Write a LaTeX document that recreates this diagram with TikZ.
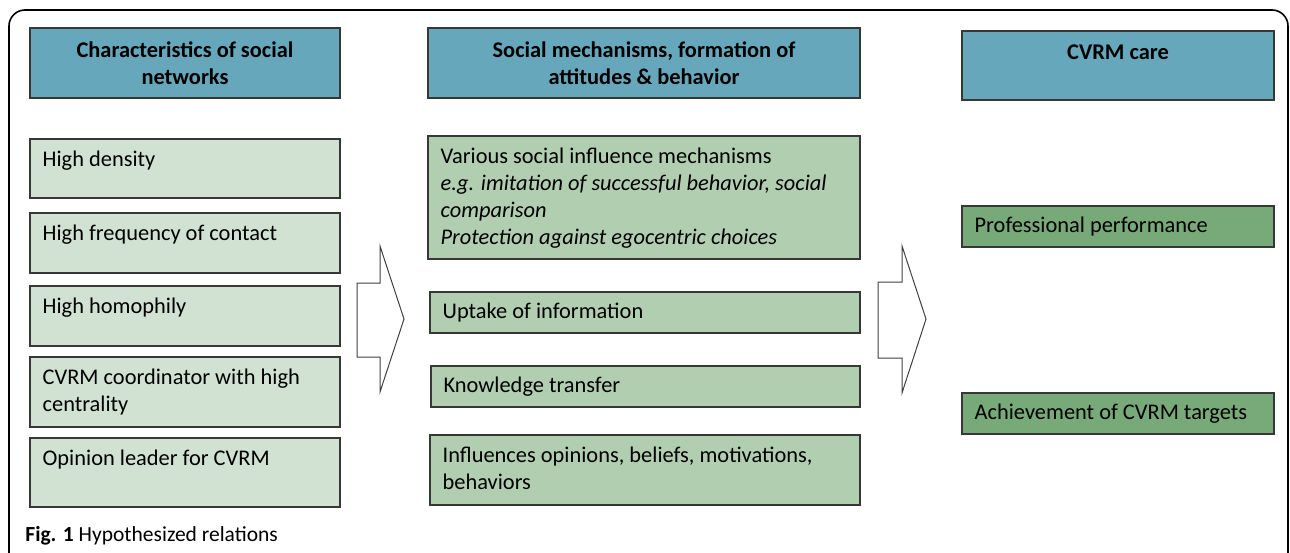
\documentclass[tikz,border=0pt]{standalone}
\usepackage{fontspec}
\setmainfont{Carlito}
\usetikzlibrary{fit}
\definecolor{headblue}{RGB}{103,167,187}
\definecolor{palegreen}{RGB}{210,226,210}
\definecolor{midgreen}{RGB}{177,206,177}
\definecolor{darkgreen}{RGB}{120,169,120}
\definecolor{boxline}{RGB}{55,55,55}

\begin{document}
\begin{tikzpicture}[x=0.5pt,y=-0.5pt,
    box/.style={draw=boxline,line width=0.75pt,inner sep=0pt},
    head/.style={box,fill=headblue},
    lbox/.style={box,fill=palegreen},
    mbox/.style={box,fill=midgreen},
    rbox/.style={box,fill=darkgreen},
    htxt/.style={anchor=north,align=center,inner xsep=0pt,inner ysep=7.2pt,font=\fontsize{11.2}{13.2}\selectfont\bfseries},
    ttxt/.style={anchor=north west,align=left,inner xsep=6.5pt,inner ysep=6.2pt,font=\fontsize{11.2}{13.4}\selectfont},
    ctxt/.style={anchor=west,align=left,inner xsep=6.5pt,font=\fontsize{11.2}{13.4}\selectfont},
    bigarrow/.style={draw=black!75,line width=0.5pt,fill=white}]
    \useasboundingbox (0,0) rectangle (1290,552);
    \draw[line width=0.8pt,rounded corners=8pt] (9,570) -- (9,10) -- (1288,10) -- (1288,570);

    % headers
    \node[head,fit={(30,28) (340,98)},label={[htxt]north:{Characteristics of social\\networks}}] (hnet) {};
    \node[head,fit={(428,28) (860,98)},label={[htxt]north:{Social mechanisms, formation of\\attitudes \& behavior}}] (hmech) {};
    \node[head,fit={(962,31) (1274,100)},label={[htxt]north:{CVRM care}}] (hcare) {};

    % network characteristics
    \node[lbox,fit={(30,139) (340,198)},label={[ttxt]north west:{High density}}] (dens) {};
    \node[lbox,fit={(30,213) (340,273)},label={[ttxt]north west:{High frequency of contact}}] (freq) {};
    \node[lbox,fit={(30,286) (340,346)},label={[ttxt]north west:{High homophily}}] (homo) {};
    \node[lbox,fit={(30,357) (340,427)},label={[ttxt]north west:{CVRM coordinator with high\\centrality}}] (coord) {};
    \node[lbox,fit={(30,438) (340,507)},label={[ttxt]north west:{Opinion leader for CVRM}}] (lead) {};

    % mechanisms
    \node[mbox,fit={(428,136) (860,259)},label={[ttxt]north west:{Various social influence mechanisms\\\textit{e.g. imitation of successful behavior, social}\\\textit{comparison}\\\textit{Protection against egocentric choices}}}] (infl) {};
    \node[mbox,fit={(430,292) (860,333)},label={[ctxt]west:{Uptake of information}}] (upt) {};
    \node[mbox,fit={(431,366) (860,407)},label={[ctxt]west:{Knowledge transfer}}] (know) {};
    \node[mbox,fit={(430,435) (860,505)},label={[ttxt]north west:{Influences opinions, beliefs, motivations,\\behaviors}}] (opin) {};

    % care outcomes
    \node[rbox,fit={(962,206) (1274,247)},label={[ctxt]west:{Professional performance}}] (perf) {};
    \node[rbox,fit={(962,393) (1274,434)},label={[ctxt]west:{Achievement of CVRM targets}}] (targ) {};

    % block arrows
    \draw[bigarrow] (357,283) -- (380,283) -- (380,246) -- (404,319) -- (380,392) -- (380,357) -- (357,357) -- cycle;
    \draw[bigarrow] (878,282) -- (902,282) -- (902,246) -- (926,319) -- (902,393) -- (902,358) -- (878,358) -- cycle;

    \node[anchor=base west,inner sep=0pt,font=\fontsize{10.75}{12}\selectfont] (cap) at (25,541) {\textbf{Fig. 1} Hypothesized relations};
\end{tikzpicture}
\end{document}
